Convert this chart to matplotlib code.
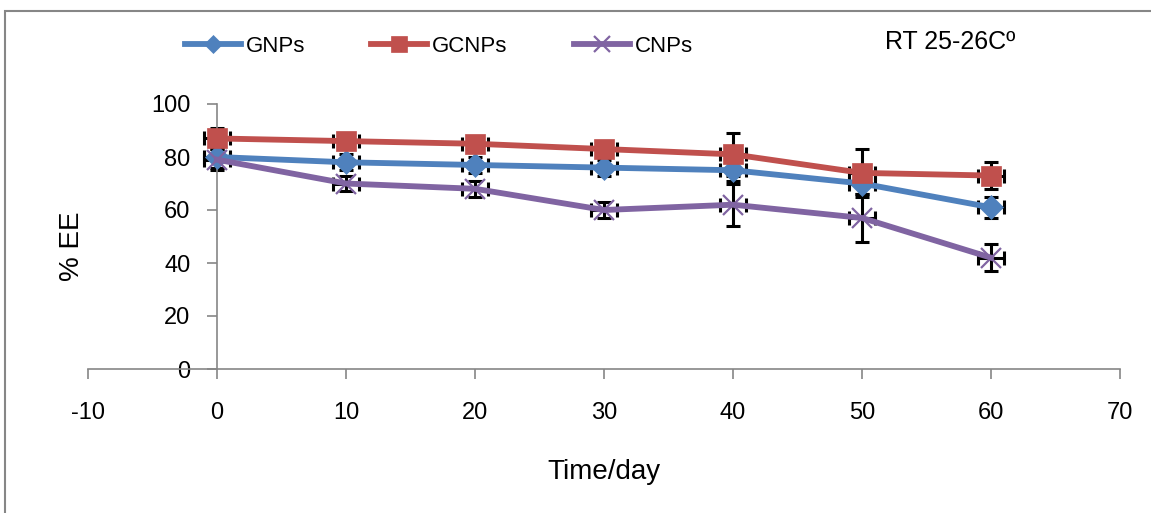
import matplotlib
matplotlib.use("Agg")
import matplotlib.pyplot as plt
from matplotlib.patches import Rectangle

days = [0, 10, 20, 30, 40, 50, 60]
gnps = [80, 78, 77, 76, 75, 70, 61]
gcnps = [87, 86, 85, 83, 81, 74, 73]
cnps = [79, 70, 68, 60, 62, 57, 42]
gnps_err = [4, 3, 3, 3, 4, 4, 4]
gcnps_err = [4, 3, 3, 3, 8, 9, 5]
cnps_err = [4, 3, 3, 3, 8, 9, 5]
day_err = [1, 1, 1, 1, 1, 1, 1]
x_ticks = [-10, 0, 10, 20, 30, 40, 50, 60, 70]
y_ticks = [0, 20, 40, 60, 80, 100]

plt.rcParams['font.family'] = ['Liberation Sans', 'DejaVu Sans']
plt.rcParams['axes.unicode_minus'] = False

fig = plt.figure(figsize=(11.51, 5.13), dpi=100)
ax = fig.add_axes([88/1151, 1-369/513, (1120-88)/1151, (369-104)/513])

series = [
    ("GNPs", gnps, gnps_err, "#4F81BD", "D", 12),
    ("GCNPs", gcnps, gcnps_err, "#C0504D", "s", 14),
    ("CNPs", cnps, cnps_err, "#8064A2", "x", 14),
]
handles = []
for name, vals, err, col, mk, ms in series:
    ax.errorbar(days, vals, yerr=err, xerr=day_err, fmt='none', ecolor='black',
                elinewidth=2.2, capsize=5, capthick=2.2, zorder=2)
    h, = ax.plot(days, vals, color=col, lw=4.2, marker=mk, ms=ms,
                 markeredgewidth=1.6 if mk == 'x' else 0.5,
                 markeredgecolor=col, markerfacecolor=col, zorder=3, label=name)
    handles.append(h)

ax.set_xlim(-10, 70)
ax.set_ylim(0, 100)
ax.set_xticks(x_ticks)
ax.set_yticks(y_ticks)
ax.spines['top'].set_visible(False)
ax.spines['right'].set_visible(False)
ax.spines['left'].set_position(('data', 0))
ax.spines['bottom'].set_position(('data', 0))
for s in ('left', 'bottom'):
    ax.spines[s].set_color('#868686')
    ax.spines[s].set_linewidth(1.2)
ax.tick_params(axis='both', direction='out', color='#868686', width=1.2,
               length=7, labelsize=17)
ax.tick_params(axis='x', pad=17)
ax.tick_params(axis='y', pad=12)

ax.set_xlabel("Time/day", fontsize=20, labelpad=25)
fig.text(72/1151, 1-246/513, "% EE", rotation=90, fontsize=20, ha='center', va='center')

leg = fig.legend(handles=handles, loc='center left', bbox_to_anchor=(185/1151, 1-46/513),
                 ncol=3, frameon=False, fontsize=16, handlelength=2.5,
                 columnspacing=3.0, handletextpad=0.22, markerscale=0.8,
                 borderpad=0, borderaxespad=0)
fig.text(885/1151, 1-42/513, "RT 25-26Cº", fontsize=18, ha='left', va='center')

fig.patches.append(Rectangle((5/1151, -0.1), 1.2, 1.1 - 11/513, transform=fig.transFigure,
                             fill=False, edgecolor='#868686', lw=1.5))

fig.savefig("out.png", dpi=100)
